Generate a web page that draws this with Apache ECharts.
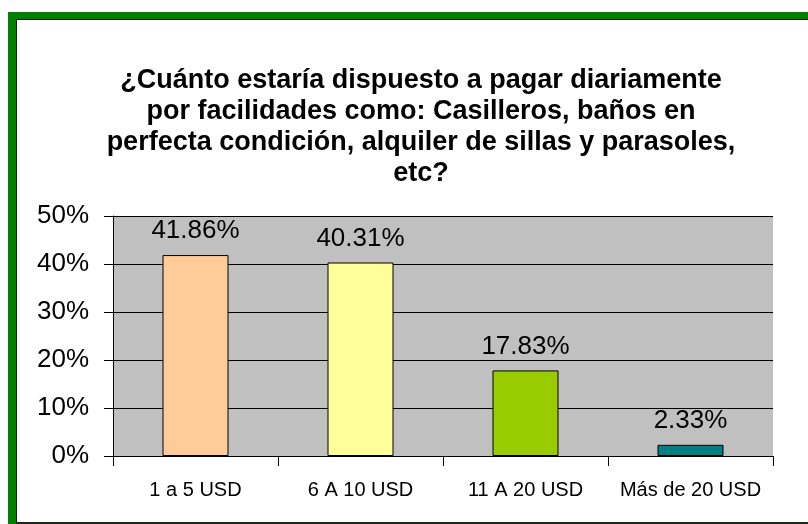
<!DOCTYPE html>
<html>
<head>
<meta charset="utf-8">
<script src="https://cdn.jsdelivr.net/npm/echarts@6/dist/echarts.min.js"></script>
<style>
  html, body { margin: 0; padding: 0; background: #fff; }
  #frame {
    position: absolute; left: 8px; top: 12px; width: 820px; height: 520px;
    background: #008000;
  }
  #inner {
    position: absolute; left: 8px; top: 7px; right: 0; bottom: 8px;
    background: #fff; border-left: 1px solid #1a1a1a; border-top: 1px solid #1a1a1a;
    border-bottom: 2px solid #1a2a1a;
  }
  #chart { position: absolute; left: 0; top: 0; width: 808px; height: 524px; }
</style>
</head>
<body>
<div id="frame"><div id="inner"></div></div>
<div id="chart"></div>
<script>
var categories = ['1 a 5 USD', '6 A 10 USD', '11 A 20 USD', 'Más de 20 USD']
var values = [41.86, 40.31, 17.83, 2.33]
var barColors = ['#FFCC99', '#FFFF99', '#99CC00', '#008080']
var titleText = '¿Cuánto estaría dispuesto a pagar diariamente\npor facilidades como: Casilleros, baños en\nperfecta condición, alquiler de sillas y parasoles,\netc?'

var font = 'Liberation Sans, Arial, sans-serif'
var chart = echarts.init(document.getElementById('chart'))

chart.setOption({
  animation: false,
  title: {
    text: titleText,
    left: 416,
    top: 60,
    textAlign: 'center',
    textStyle: {
      fontFamily: font,
      fontSize: 27,
      fontWeight: 'bold',
      color: '#000',
      lineHeight: 31
    }
  },
  grid: {
    left: 113,
    top: 216,
    width: 660,
    height: 240,
    show: true,
    backgroundColor: '#c0c0c0',
    borderWidth: 0
  },
  xAxis: {
    type: 'category',
    data: categories,
    axisLine: { lineStyle: { color: '#000', width: 1 } },
    axisTick: { show: true, interval: 0, length: 10, lineStyle: { color: '#000' } },
    axisLabel: { interval: 0, fontFamily: font, fontSize: 20, color: '#000', margin: 24 }
  },
  yAxis: {
    type: 'value',
    min: 0,
    max: 50,
    interval: 10,
    axisLine: { show: true, lineStyle: { color: '#000', width: 1 } },
    axisTick: { show: true, length: 9, lineStyle: { color: '#000' } },
    splitLine: { show: true, lineStyle: { color: '#000', width: 1 } },
    axisLabel: { fontFamily: font, fontSize: 26, color: '#000', margin: 24, formatter: '{value}%' }
  },
  series: [{
    type: 'bar',
    barWidth: '40%',
    data: values.map(function (v, i) {
      return { value: v, itemStyle: { color: barColors[i] } }
    }),
    itemStyle: { borderColor: '#000', borderWidth: 1 },
    label: {
      show: true,
      position: 'top',
      distance: 11,
      fontFamily: font,
      fontSize: 26,
      color: '#000',
      formatter: function (p) { return p.value.toFixed(2) + '%' }
    }
  }]
})
</script>
</body>
</html>
